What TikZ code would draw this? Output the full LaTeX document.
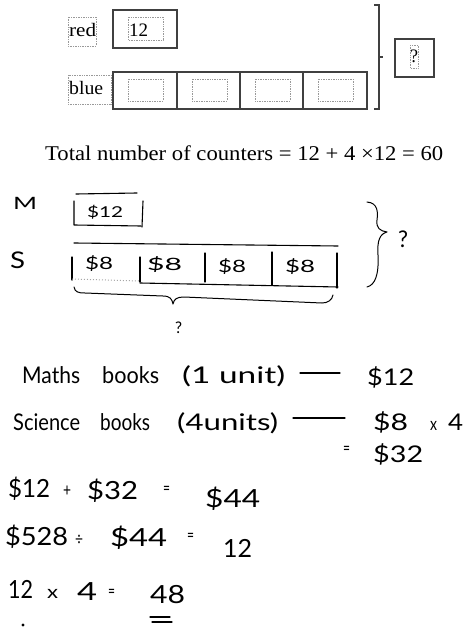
\documentclass[tikz,border=0pt]{standalone}
\usepackage{fontspec}
\setmainfont{Liberation Serif}
\newfontfamily\hand{Lato}
\usepackage{graphicx}
\newcommand{\fitw}[2]{\resizebox{#1pt}{\height}{#2}}
\tikzset{
  pbox/.style={draw=black!75, line width=1.2pt},
  dotbox/.style={draw=black!40, densely dotted, line width=0.7pt},
  prt/.style={inner sep=0pt, anchor=base west, text=black, font=\fontsize{19}{19}\selectfont},
  hw/.style={inner sep=0pt, anchor=base west, font=\hand\fontsize{23}{23}\selectfont},
  hwnum/.style={inner sep=0pt, anchor=base west, font=\hand\fontsize{25}{25}\selectfont},
  hwsm/.style={inner sep=0pt, anchor=base west, font=\hand\fontsize{18}{18}\selectfont},
  hline/.style={line width=1.1pt, line cap=round, line join=round},
}
\begin{document}
\begin{tikzpicture}[x=1pt,y=-1pt]
\useasboundingbox (0,0) rectangle (464,628);
% ---------- printed model ----------
\draw[dotbox] (68,17) rectangle (96,46);
\node[prt] (red) at (69,37) {\fitw{27}{red}};
\draw[pbox] (113,10) rectangle (177,48);
\draw[dotbox] (128,17) rectangle (163,40);
\node[prt] (twelve) at (129,37) {\fitw{19}{12}};
\draw[dotbox] (68,75) rectangle (111,104);
\node[prt] (blue) at (69,95) {\fitw{34}{blue}};
\foreach \a/\b [count=\i] in {113/177,177/240,240/303,303/367}{
  \draw[pbox] (\a,72) rectangle (\b,109);
  \draw[dotbox] ({\a+15},79) rectangle ({\a+50},101);
}
\draw[pbox] (374,5) -- (379,5) -- (379,109) -- (374,109);
\draw[pbox] (379,57) -- (383,57);
\draw[pbox] (395,39) rectangle (434,77);
\draw[dotbox] (410,45) rectangle (418,68);
\node[prt] (qbox) at (410,63) {\fitw{8}{?}};
\node[prt, font=\fontsize{21}{21}\selectfont] (total) at (45,161)
  {\fitw{398}{Total number of counters = 12 + 4 ×12 = 60}};
% ---------- handwritten model ----------
\node[hw, font=\hand\fontsize{17}{17}\selectfont] (labM) at (13,210) {\fitw{24}{M}};
\node[hw] (labS) at (10,268) {\fitw{15}{S}};
\draw[hline] (76,194) -- (137,193);
\draw[hline] (74,201) -- (74,225) -- (141,226);
\draw[hline] (143,201) -- (142,227);
\node[hw, font=\hand\fontsize{15}{15}\selectfont] (m12) at (87,218) {\fitw{36}{\$12}};
\draw[hline] (74,243) -- (338,246);
\draw[hline] (72,257) -- (72,280);
\draw[hline] (140,257) -- (140,282);
\draw[hline] (205,253) -- (205,282);
\draw[hline] (272,252) -- (272,285);
\draw[hline] (337,253) -- (337,288);
\draw[black!35, dotted, line width=1pt] (72,279) -- (140,281);
\draw[hline] (140,283) -- (338,287);
\node[hw, font=\hand\fontsize{17}{17}\selectfont] (s1) at (85,269) {\fitw{28}{\$8}};
\node[hw, font=\hand\fontsize{17}{17}\selectfont] (s2) at (147,270) {\fitw{35}{\$8}};
\node[hw, font=\hand\fontsize{17}{17}\selectfont] (s3) at (218,272) {\fitw{28}{\$8}};
\node[hw, font=\hand\fontsize{17}{17}\selectfont] (s4) at (285,272) {\fitw{30}{\$8}};
\draw[hline, line width=1pt] (74,287) .. controls (75,292) and (78,293) .. (85,293) -- (163,296)
  .. controls (170,296) and (172,299) .. (173,304)
  .. controls (174,299) and (177,297) .. (184,297) -- (322,303)
  .. controls (328,303) and (332,300) .. (333,295);
\node[hw, font=\hand\fontsize{16}{16}\selectfont] (qb) at (175,333) {\fitw{7}{?}};
\draw[hline, line width=1pt] (367,202) .. controls (378,203) and (378,212) .. (377,220)
  .. controls (376,228) and (380,231) .. (387,232)
  .. controls (380,234) and (377,240) .. (378,255)
  .. controls (379,275) and (375,285) .. (367,287);
\node[hw] (qr) at (398,247) {\fitw{10}{?}};
% ---------- working ----------
\node[hw] (w1a) at (22,383) {\fitw{58}{Maths}};
\node[hw] (w1b) at (102,383) {\fitw{57}{books}};
\node[hw] (w1c) at (182,383) {\fitw{103}{(1 unit)}};
\draw[hline] (300,373) -- (340,373);
\node[hw] (w1d) at (367,385) {\fitw{47}{\$12}};
\node[hw] (w2a) at (13,430) {\fitw{67}{Science}};
\node[hw] (w2b) at (100,430) {\fitw{50}{books}};
\node[hw] (w2c) at (177,430) {\fitw{101}{(4units)}};
\draw[hline] (293,418) -- (345,418);
\node[hw] (w2d) at (373,430) {\fitw{35}{\$8}};
\node[hwsm] (w2e) at (430,430) {\fitw{7}{x}};
\node[hw] (w2f) at (448,430) {\fitw{15}{4}};
\node[hwsm] (w3a) at (343,454) {\fitw{7}{=}};
\node[hw] (w3b) at (373,462) {\fitw{50}{\$32}};
\node[hwnum] (w4a) at (8,497) {\fitw{42}{\$12}};
\node[hwsm] (w4b) at (63,496) {\fitw{8}{+}};
\node[hwnum] (w4c) at (87,499) {\fitw{51}{\$32}};
\node[hwsm] (w4d) at (163,494) {\fitw{7}{=}};
\node[hwnum] (w4e) at (205,507) {\fitw{55}{\$44}};
\node[hwnum] (w5a) at (5,545) {\fitw{63}{\$528}};
\node[hwsm] (w5b) at (75,545) {\fitw{8}{÷}};
\node[hwnum] (w5c) at (110,546) {\fitw{57}{\$44}};
\node[hwsm] (w5d) at (187,541) {\fitw{7}{=}};
\node[hwnum] (w5e) at (223,557) {\fitw{29}{12}};
\node[hwnum] (w6a) at (8,598) {\fitw{25}{12}};
\node[hwsm] (w6b) at (47,598) {\fitw{11}{x}};
\node[hwnum] (w6c) at (77,600) {\fitw{20}{4}};
\node[hwsm] (w6d) at (108,597) {\fitw{7}{=}};
\node[hwnum] (w6e) at (150,603) {\fitw{35}{48}};
\draw[hline] (150,617) -- (170,617);
\draw[hline] (152,622) -- (172,622);
\fill (23,625) circle (1.6);
\end{tikzpicture}
\end{document}
